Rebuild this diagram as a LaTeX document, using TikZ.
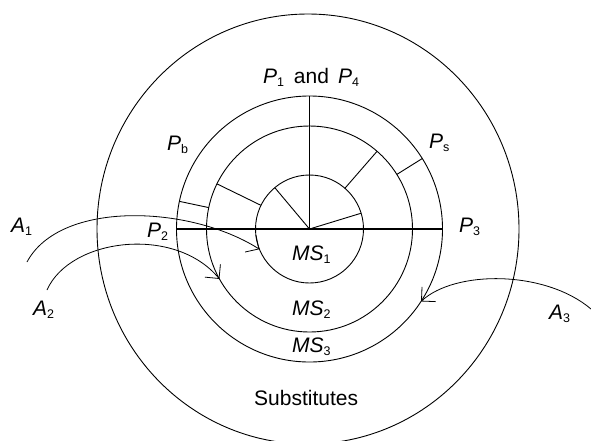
\documentclass[tikz,border=0pt]{standalone}
\usepackage{fontspec}
\setmainfont{Liberation Sans}
\usetikzlibrary{arrows.meta,shapes.geometric}
\newcommand{\lsub}[1]{\raisebox{-3pt}{\fontsize{12.5}{12.5}\selectfont #1}}
\begin{document}
\begin{tikzpicture}[x=1pt,y=-1pt,
  ring/.style={draw, circle, inner sep=0pt, outer sep=0pt, line width=0.9pt},
  oval/.style={draw, ellipse, inner sep=0pt, outer sep=0pt, line width=0.9pt},
  spoke/.style={line width=0.9pt},
  axisline/.style={line width=1.3pt},
  flow/.style={line width=0.8pt, -{Straight Barb[length=10pt,width=20pt]}},
  lbl/.style={font=\fontsize{21}{24}\selectfont, inner sep=0pt}]
\useasboundingbox (0,0) rectangle (591,440);
\clip (0,0) rectangle (591,440);
\coordinate (c) at (309.5,229);
% rings
\node[oval, minimum width=422pt, minimum height=430pt] (outer) at (308,229) {};
\node[ring, minimum size=266pt] (r3) at (c) {};
\node[ring, minimum size=206pt] (r2) at (c) {};
\node[ring, minimum size=108pt] (r1) at (c) {};
% main axes
\draw[axisline] (c) -- (r3.north);
\draw[axisline] (r3.west) -- (r3.east);
% spokes
\draw[spoke] (c) -- (r1.130);
\draw[spoke] (c) -- (r1.17);
\draw[spoke] (r1.154) -- (r2.154);
\draw[spoke] (r1.49) -- (r2.49);
\draw[spoke] (r2.168) -- (r3.168);
\draw[spoke] (r2.32) -- (r3.32);
% flows
\coordinate (a1s) at (27,262);
\coordinate (a2s) at (47,290);
\coordinate (a3s) at (591,309);
\draw[flow] (a1s) .. controls (60,200) and (190,205) .. (r1.202);
\draw[flow] (a2s) .. controls (70,238) and (175,225) .. (r2.209);
\draw[flow] (a3s) .. controls (545,270) and (455,270) .. (r3.327);
% labels
\node[lbl, anchor=base] (p14) at (311,83) {\textit{P}\lsub{1}\hspace{10pt}and\hspace{9pt}\textit{P}\lsub{4}};
\node[lbl, anchor=base west] (pb) at (167,150) {\textit{P}\lsub{b}};
\node[lbl, anchor=base west] (ps) at (429,148) {\textit{P}\lsub{s}};
\node[lbl, anchor=base west] (p3) at (459,232) {\textit{P}\lsub{3}};
\node[lbl, anchor=base west] (p2) at (147,237) {\textit{P}\lsub{2}};
\node[lbl, anchor=base west] (ms1) at (292,260) {\textit{MS}\lsub{1}};
\node[lbl, anchor=base west] (ms2) at (292,315) {\textit{MS}\lsub{2}};
\node[lbl, anchor=base west] (ms3) at (292,352) {\textit{MS}\lsub{3}};
\node[lbl, anchor=base west] (sub) at (254,405) {Substitutes};
\node[lbl, anchor=base west] (a1) at (11,232) {\textit{A}\lsub{1}};
\node[lbl, anchor=base west] (a2) at (33,315) {\textit{A}\lsub{2}};
\node[lbl, anchor=base west] (a3) at (549,319) {\textit{A}\lsub{3}};
\end{tikzpicture}
\end{document}
